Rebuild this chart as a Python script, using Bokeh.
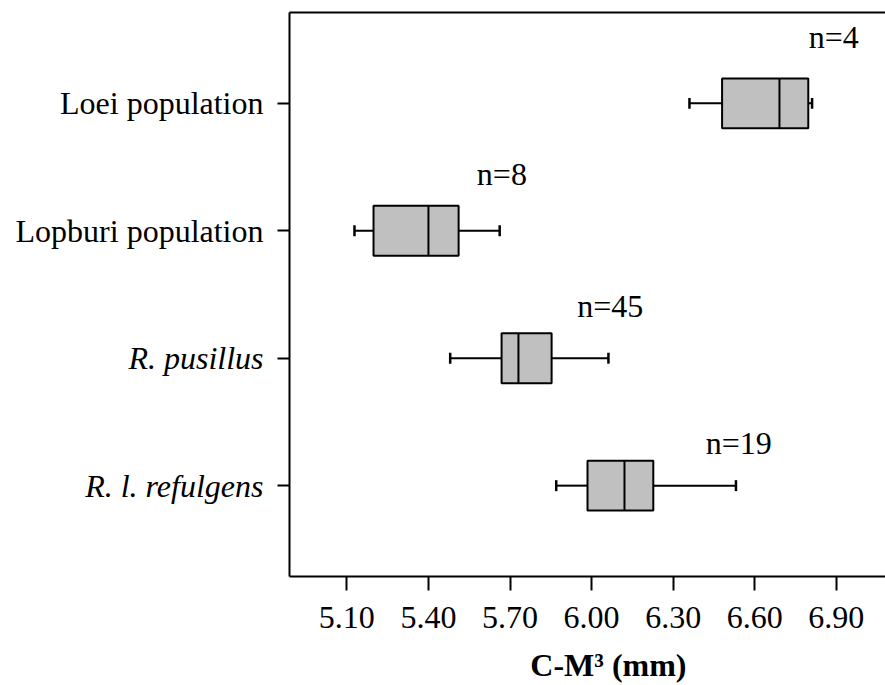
from bokeh.plotting import figure
from bokeh.models import FixedTicker, LinearAxis, ColumnDataSource, Range1d
from bokeh.core.properties import value
from bokeh.embed import file_html
from bokeh.resources import INLINE

# ---- data ----
groups = ["Loei population", "Lopburi population", "R. pusillus", "R. l. refulgens"]
italic = [False, False, True, True]
whisker_low = [6.360, 5.128, 5.480, 5.870]
q1 = [6.480, 5.198, 5.669, 5.985]
median = [6.691, 5.400, 5.731, 6.121]
q3 = [6.797, 5.511, 5.853, 6.227]
whisker_high = [6.811, 5.662, 6.062, 6.531]
n_labels = ["n=4", "n=8", "n=45", "n=19"]
n_label_x = [6.891, 5.670, 6.069, 6.541]
n_label_dy = [0.517, 0.447, 0.408, 0.337]
x_ticks = [5.10, 5.40, 5.70, 6.00, 6.30, 6.60, 6.90]
x_tick_labels = ["5.10", "5.40", "5.70", "6.00", "6.30", "6.60", "6.90"]
x_title = "C-M\u00b3 (mm)"
x_title_at = 6.062

FONT = "Liberation Serif"
FS = "32px"

ypos = [len(groups) - i for i in range(len(groups))]
box_h = 0.392
cap_h = 0.086

src = ColumnDataSource(dict(
    y=ypos, lo=whisker_low, q1=q1, med=median, q3=q3, hi=whisker_high,
    ylo=[y - box_h / 2 for y in ypos], yhi=[y + box_h / 2 for y in ypos],
    clo=[y - cap_h / 2 for y in ypos], chi=[y + cap_h / 2 for y in ypos],
    nx=n_label_x, ny=[y + d for y, d in zip(ypos, n_label_dy)], nt=n_labels,
))

p = figure(width=885, height=685, output_backend="svg", toolbar_location=None,
           x_range=Range1d(4.889, 7.081), y_range=Range1d(0.287, 4.713),
           min_border_left=289, min_border_right=0, min_border_top=12,
           min_border_bottom=108, x_axis_type=None, y_axis_type=None)
p.outline_line_color = None
p.background_fill_color = "white"
p.border_fill_color = "white"

# whiskers
p.segment(x0="lo", x1="q1", y0="y", y1="y", source=src, line_color="black", line_width=2)
p.segment(x0="q3", x1="hi", y0="y", y1="y", source=src, line_color="black", line_width=2)
p.segment(x0="lo", x1="lo", y0="clo", y1="chi", source=src, line_color="black", line_width=2.5)
p.segment(x0="hi", x1="hi", y0="clo", y1="chi", source=src, line_color="black", line_width=2.5)
# boxes
p.hbar(y="y", height=box_h, left="q1", right="q3", source=src,
       fill_color="#c0c0c0", line_color="black", line_width=2)
# medians
p.segment(x0="med", x1="med", y0="ylo", y1="yhi", source=src, line_color="black", line_width=2)
# n labels
p.text(x="nx", y="ny", text="nt", source=src, text_align="center",
       text_baseline="middle", text_font=value(FONT), text_font_size=FS,
       text_color="black")

def style(ax):
    ax.axis_line_width = 2
    ax.axis_line_color = "black"
    ax.major_tick_line_width = 2
    ax.major_tick_line_color = "black"
    ax.major_tick_in = 0
    ax.minor_tick_line_color = None
    ax.major_label_text_font = FONT
    ax.major_label_text_font_size = FS
    ax.major_label_text_color = "black"

def label_only(ax):
    ax.axis_line_color = None
    ax.major_tick_line_color = None
    ax.major_tick_out = 0

# x axis with ticks
xaxis = LinearAxis(ticker=FixedTicker(ticks=x_ticks),
                   major_label_overrides={t: l for t, l in zip(x_ticks, x_tick_labels)})
style(xaxis)
xaxis.major_tick_out = 14
xaxis.major_label_standoff = 16
p.add_layout(xaxis, "below")

# x-axis title (label-only axis stacked under the tick axis)
xtitle = LinearAxis(ticker=FixedTicker(ticks=[x_title_at]),
                    major_label_overrides={x_title_at: x_title})
style(xtitle)
label_only(xtitle)
xtitle.major_label_standoff = 16
xtitle.major_label_text_font_style = "bold"
p.add_layout(xtitle, "below")

# inner left axis: frame line, ticks and the italic species labels
yaxis_it = LinearAxis(ticker=FixedTicker(ticks=ypos),
                      major_label_overrides={y: (g if it else "") for y, g, it in zip(ypos, groups, italic)})
style(yaxis_it)
yaxis_it.major_tick_out = 12
yaxis_it.major_label_standoff = 14
yaxis_it.major_label_text_font_style = "italic"
p.add_layout(yaxis_it, "left")

# outer left axis: upright population labels, pulled back to align with the italic ones
yaxis_up = LinearAxis(ticker=FixedTicker(ticks=[y for y, it in zip(ypos, italic) if not it]),
                      major_label_overrides={y: g for y, g, it in zip(ypos, groups, italic) if not it})
style(yaxis_up)
label_only(yaxis_up)
yaxis_up.major_label_standoff = -181
p.add_layout(yaxis_up, "left")

# top frame line
top = LinearAxis(ticker=FixedTicker(ticks=[]), axis_line_width=2, axis_line_color="black",
                 major_tick_line_color=None, minor_tick_line_color=None,
                 major_label_text_font_size="0px")
p.add_layout(top, "above")

open("out.html", "w").write(file_html(p, INLINE))
